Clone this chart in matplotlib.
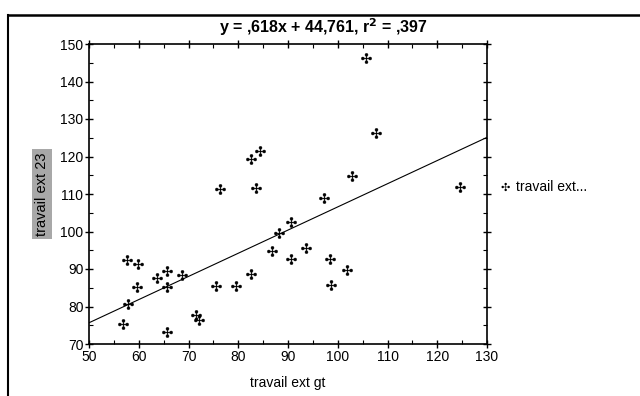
import matplotlib
matplotlib.use("Agg")
import matplotlib.pyplot as plt
from matplotlib.ticker import MultipleLocator
from matplotlib.lines import Line2D

plt.rcParams['font.family'] = ['Liberation Sans', 'DejaVu Sans']

x_vals = [56.8, 57.8, 57.6, 59.8, 59.6, 63.6, 65.6, 65.6, 65.6, 68.6, 71.6, 72.2,
          75.6, 76.4, 79.6, 82.6, 82.6, 84.4, 83.6, 86.8, 88.2, 90.6, 90.6, 93.6,
          97.2, 98.4, 98.6, 101.8, 102.8, 105.6, 107.6, 124.6]
y_vals = [75.3, 80.7, 92.4, 91.3, 85.2, 87.6, 89.5, 85.2, 73.2, 88.4, 77.7, 76.4,
          85.5, 111.3, 85.5, 88.7, 119.3, 121.5, 111.6, 94.8, 99.6, 102.5, 92.7, 95.6,
          108.9, 92.7, 85.7, 89.7, 114.8, 146.3, 126.3, 111.9]
slope = 0.618
intercept = 44.761
title_text = "y = ,618x + 44,761, r$^\\mathbf{2}$ = ,397"
x_label = "travail ext gt"
y_label = "travail ext 23"
legend_label = "travail ext..."
x_ticks = [50, 60, 70, 80, 90, 100, 110, 120, 130]
y_ticks = [70, 80, 90, 100, 110, 120, 130, 140, 150]

fig = plt.figure(figsize=(6.4, 3.96), dpi=100)
ax = fig.add_axes([89/640, 1-344/396, (487-89)/640, (344-44)/396])

marker = '$✣$'
ax.scatter(x_vals, y_vals, marker=marker, s=55, c='black', linewidths=0.3, zorder=3)
lx = [x_ticks[0], x_ticks[-1]]
ax.plot(lx, [slope*v + intercept for v in lx], color='black', lw=0.8, zorder=2)

ax.set_xlim(x_ticks[0], x_ticks[-1])
ax.set_ylim(y_ticks[0], y_ticks[-1])
ax.set_xticks(x_ticks)
ax.set_yticks(y_ticks)
ax.xaxis.set_minor_locator(MultipleLocator(5))
ax.yaxis.set_minor_locator(MultipleLocator(5))
ax.tick_params(which='major', direction='inout', length=6, width=1,
               labelsize=10, top=True, right=True, pad=1)
ax.tick_params(which='minor', direction='in', length=3, width=0.8, top=True, right=True)
for s in ax.spines.values():
    s.set_linewidth(1.2)

fig.text(323/640, 1-27/396, title_text, fontsize=11.5, fontweight='bold',
         ha='center', va='center')
ax.set_xlabel(x_label, fontsize=10, labelpad=9)
ax.set_ylabel(y_label, fontsize=10.5, labelpad=8,
              bbox=dict(facecolor='#a8a8a8', edgecolor='none', hatch='....', pad=2))

# legend
fig.text(505/640, 1-187/396, marker, fontsize=8, ha='center', va='center')
fig.text(516/640, 1-187/396, legend_label, fontsize=10, ha='left', va='center')

# outer frame (scanned page border)
fig.add_artist(Line2D([8/640, 8/640], [0, 1-15/396], color='black', lw=1.5))
fig.add_artist(Line2D([8/640, 1], [1-15/396, 1-15/396], color='black', lw=1.8))

fig.savefig("out.png", dpi=100)
